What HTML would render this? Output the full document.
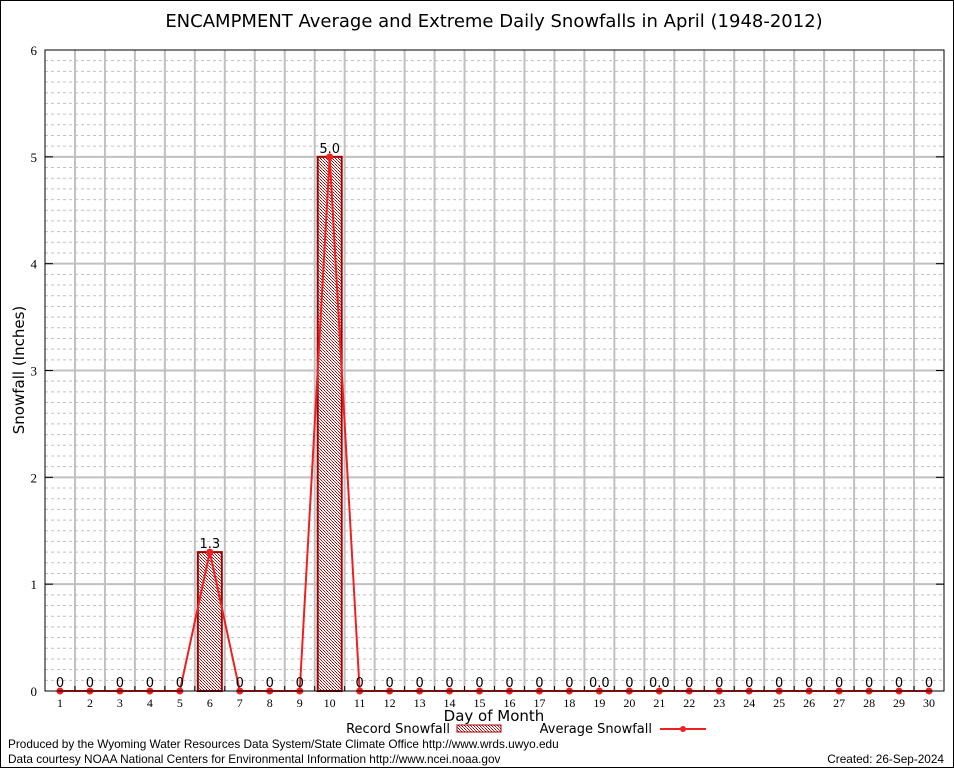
<!DOCTYPE html>
<html><head><meta charset="utf-8"><style>body{margin:0;background:#fff}svg{display:block;font-family:"DejaVu Sans","Liberation Sans",sans-serif}</style></head><body>
<svg id="chart" width="954" height="768" viewBox="0 0 954 768" xmlns="http://www.w3.org/2000/svg">
<defs><pattern id="chk" width="3" height="3" patternUnits="userSpaceOnUse"><rect width="3" height="3" fill="#fff"/><rect width="1" height="1" fill="#b00000"/><rect x="1" y="1" width="1" height="1" fill="#c04040"/><rect x="2" y="2" width="1" height="1" fill="#b00000"/></pattern></defs>
<rect x="0.5" y="0.5" width="953" height="767" fill="#fff" stroke="#000"/>
<text x="494" y="27" font-size="18" text-anchor="middle">ENCAMPMENT Average and Extreme Daily Snowfalls in April (1948-2012)</text>
<g id="grid"></g><g id="bars"></g><g id="line"></g><g id="axes"></g>
<text transform="translate(24,370) rotate(-90)" font-size="15" text-anchor="middle">Snowfall (Inches)</text>
<text x="494" y="721" font-size="15" text-anchor="middle">Day of Month</text>
<g font-size="13">
<text x="450" y="733" text-anchor="end">Record Snowfall</text>
<rect x="457" y="725" width="44" height="7" fill="url(#chk)" stroke="#a00000"/>
<text x="652" y="733" text-anchor="end">Average Snowfall</text>
<line x1="660" y1="729" x2="706" y2="729" stroke="#f02020" stroke-width="2"/>
<circle cx="683" cy="729" r="3" fill="#f02020"/>
</g>
<text x="8" y="748" font-size="11.8" font-family="Liberation Sans,sans-serif">Produced by the Wyoming Water Resources Data System/State Climate Office http://www.wrds.uwyo.edu</text>
<text x="8" y="763" font-size="11.8" font-family="Liberation Sans,sans-serif">Data courtesy NOAA National Centers for Environmental Information http://www.ncei.noaa.gov</text>
<text x="944" y="763" font-size="11.8" font-family="Liberation Sans,sans-serif" text-anchor="end">Created:  26-Sep-2024</text>
</svg>
<script>
const days=[1,2,3,4,5,6,7,8,9,10,11,12,13,14,15,16,17,18,19,20,21,22,23,24,25,26,27,28,29,30];
const recordValues=[0,0,0,0,0,1.3,0,0,0,5.0,0,0,0,0,0,0,0,0,0,0,0,0,0,0,0,0,0,0,0,0];
const averageValues=[0,0,0,0,0,1.3,0,0,0,5.0,0,0,0,0,0,0,0,0,0,0,0,0,0,0,0,0,0,0,0,0];
const pointLabels=["0","0","0","0","0","1.3","0","0","0","5.0","0","0","0","0","0","0","0","0","0.0","0","0.0","0","0","0","0","0","0","0","0","0"];
const yTicks=[0,1,2,3,4,5,6];
const L=45,R=944,T=50,B=691,yMax=6;
const NS="http://www.w3.org/2000/svg";
const xS=d=>L+(d-0.5)*(R-L)/30;
const yS=v=>B-v*(B-T)/yMax;
function mk(tag,attrs,parent,txt){const e=document.createElementNS(NS,tag);for(const k in attrs)e.setAttribute(k,attrs[k]);if(txt!==undefined)e.textContent=txt;parent.appendChild(e);return e;}
const grid=document.getElementById('grid'),bars=document.getElementById('bars'),line=document.getElementById('line'),axes=document.getElementById('axes');
for(let i=1;i<yMax*10;i++){const v=i/10;if(i%10===0)continue;const g=mk('line',{x1:L,x2:R,y1:yS(v),y2:yS(v),stroke:'#c0c0c0','stroke-dasharray':'3,3'},grid);

}
for(let d=1;d<30;d++){const g=mk('line',{x1:xS(d+0.5),x2:xS(d+0.5),y1:T,y2:B,stroke:'#c0c0c0','stroke-width':2},grid);

}
yTicks.forEach(v=>{if(v>0&&v<yMax){const g=mk('line',{x1:L,x2:R,y1:yS(v),y2:yS(v),stroke:'#c0c0c0','stroke-width':2},grid);

}
const t=mk('text',{x:L-8,y:yS(v)+5,'font-size':13,'text-anchor':'end','font-family':'Liberation Serif,serif'},axes,String(v));


const tk=mk('line',{x1:L,x2:L+8,y1:yS(v),y2:yS(v),stroke:'#000'},axes);


const tk2=mk('line',{x1:R-8,x2:R,y1:yS(v),y2:yS(v),stroke:'#000'},axes);

});
days.forEach((d,i)=>{const v=recordValues[i];if(v>0){const w=(R-L)/30*0.8;const b=mk('rect',{x:xS(d)-w/2,y:yS(v),width:w,height:B-yS(v),fill:'url(#chk)',stroke:'#a00000','stroke-width':2},bars);

}
const t=mk('text',{x:xS(d),y:B+16,'font-size':12,'text-anchor':'middle','font-family':'Liberation Serif,serif'},axes,String(d));


const tk=mk('line',{x1:xS(d+0.5),x2:xS(d+0.5),y1:B-5,y2:B,stroke:'#000'},axes);

});
const pts=days.map((d,i)=>xS(d)+','+yS(averageValues[i])).join(' ');
const pl=mk('polyline',{points:pts,fill:'none',stroke:'#f02020','stroke-width':2},line);


days.forEach((d,i)=>{const c=mk('circle',{cx:xS(d),cy:yS(averageValues[i]),r:3.5,fill:'#f02020'},line);


const t=mk('text',{x:xS(d),y:yS(Math.max(averageValues[i],recordValues[i]))-4,'font-size':13,'text-anchor':'middle'},line,pointLabels[i]);

});
const fr=mk('rect',{x:L,y:T,width:R-L,height:B-T,fill:'none',stroke:'#000'},axes);


</script>
</body></html>
